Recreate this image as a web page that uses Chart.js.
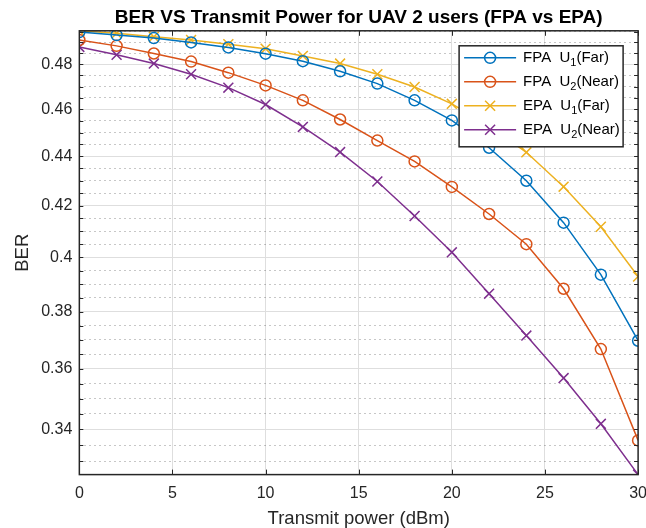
<!DOCTYPE html>
<html lang="en">
<head>
<meta charset="UTF-8">
<title>BER VS Transmit Power for UAV 2 users</title>
<script src="https://cdn.jsdelivr.net/npm/chart.js"></script>
<style>
  html, body { margin: 0; padding: 0; background: #fff; overflow: hidden; }
  /* a bit wider than the window so the last x label is cut like the original */
  #wrap { width: 656px; height: 528px; }
</style>
</head>
<body>
<div id="wrap"><canvas id="berChart"></canvas></div>
<script>
// transmit power (dBm)
const power = [0, 2, 4, 6, 8, 10, 12, 14, 16, 18, 20, 22, 24, 26, 28, 30];

// BER values
const fpaFar  = [0.4948, 0.4934, 0.4920, 0.4900, 0.4877, 0.4848, 0.4814, 0.4768, 0.4713, 0.4639, 0.4552, 0.4436, 0.4300, 0.4133, 0.3935, 0.3697];
const fpaNear = [0.4911, 0.4884, 0.4849, 0.4812, 0.4762, 0.4705, 0.4639, 0.4556, 0.4466, 0.4379, 0.4275, 0.4167, 0.4050, 0.3883, 0.3668, 0.3365];
const epaFar  = [0.4954, 0.4942, 0.4926, 0.4911, 0.4892, 0.4871, 0.4838, 0.4803, 0.4755, 0.4698, 0.4624, 0.4530, 0.4417, 0.4276, 0.4117, 0.3928];
const epaNear = [0.4879, 0.4843, 0.4803, 0.4755, 0.4695, 0.4621, 0.4524, 0.4418, 0.4297, 0.4159, 0.4019, 0.3865, 0.3715, 0.3569, 0.3418, 0.3258];

const seriesNames = ['FPA  U_1(Far)', 'FPA  U_2(Near)', 'EPA  U_1(Far)', 'EPA  U_2(Near)'];

// tick values
const xTicks = [0, 5, 10, 15, 20, 25, 30];
const yMajorTicks = [0.34, 0.36, 0.38, 0.40, 0.42, 0.44, 0.46, 0.48];
const yMinorTicks = [0.33, 0.335, 0.345, 0.35, 0.355, 0.365, 0.37, 0.375, 0.385, 0.39, 0.395,
                     0.405, 0.41, 0.415, 0.425, 0.43, 0.435, 0.445, 0.45, 0.455, 0.465, 0.47, 0.475,
                     0.485, 0.49, 0.495];

const allValues = fpaFar.concat(fpaNear, epaFar, epaNear);
const yMin = Math.min(...allValues);
const yMax = Math.max(...allValues);

const BLUE = '#0072BD', ORANGE = '#D95319', YELLOW = '#EDB120', PURPLE = '#7E2F8E';
const AXIS = '#262626';

Chart.defaults.font.family = "'Liberation Sans', Arial, Helvetica, sans-serif";

function makeSeries(label, values, color, marker) {
    return {
        label: label,
        data: power.map((p, i) => ({ x: p, y: values[i] })),
        borderColor: color,
        backgroundColor: 'transparent',
        borderWidth: 1.5,
        pointStyle: marker,
        pointRadius: marker === 'circle' ? 5.5 : 7,
        pointBorderWidth: 1.5,
        pointBorderColor: color,
        pointBackgroundColor: 'transparent',
        tension: 0,
        fill: false,
    };
}

// box round the plot area with inward ticks (MATLAB style)
const boxPlugin = {
    id: 'axesBox',
    afterDatasetsDraw(chart) {
        const ctx = chart.ctx;
        const { left, right, top, bottom } = chart.chartArea;
        const xs = chart.scales.x, ys = chart.scales.y;
        ctx.save();
        ctx.strokeStyle = AXIS;
        ctx.lineWidth = 1;
        ctx.beginPath();
        xTicks.forEach(v => {
            const px = Math.round(xs.getPixelForValue(v)) + 0.5;
            ctx.moveTo(px, bottom); ctx.lineTo(px, bottom - 5);
            ctx.moveTo(px, top); ctx.lineTo(px, top + 5);
        });
        yMajorTicks.concat(yMinorTicks).forEach(v => {
            if (v < yMin || v > yMax) return;
            const py = Math.round(ys.getPixelForValue(v)) + 0.5;
            ctx.moveTo(left, py); ctx.lineTo(left + 4, py);
            ctx.moveTo(right, py); ctx.lineTo(right - 4, py);
        });
        ctx.stroke();
        ctx.lineWidth = 1.5;
        ctx.strokeRect(left, top, right - left, bottom - top);
        ctx.restore();
    }
};

// legend drawn inside the axes, top-right, opaque
const legendPlugin = {
    id: 'insideLegend',
    afterDatasetsDraw(chart) {
        const ctx = chart.ctx;
        const { right, top } = chart.chartArea;
        const w = 164, h = 101;
        const bx = right - 15 - w, by = top + 15;
        ctx.save();
        ctx.fillStyle = '#fff';
        ctx.fillRect(bx, by, w, h);
        ctx.strokeStyle = AXIS;
        ctx.lineWidth = 1.5;
        ctx.strokeRect(bx, by, w, h);
        chart.data.datasets.forEach((ds, i) => {
            const cy = by + 12 + i * 24;
            ctx.strokeStyle = ds.borderColor;
            ctx.lineWidth = 1.5;
            ctx.beginPath();
            ctx.moveTo(bx + 5, cy); ctx.lineTo(bx + 57, cy);
            ctx.stroke();
            const mx = bx + 31;
            ctx.beginPath();
            if (ds.pointStyle === 'circle') {
                ctx.arc(mx, cy, 5.5, 0, Math.PI * 2);
            } else {
                ctx.moveTo(mx - 5, cy - 5); ctx.lineTo(mx + 5, cy + 5);
                ctx.moveTo(mx - 5, cy + 5); ctx.lineTo(mx + 5, cy - 5);
            }
            ctx.stroke();
            // text with subscript
            const parts = ds.label.split('_');
            let tx = bx + 64;
            ctx.fillStyle = '#000';
            ctx.textBaseline = 'middle';
            ctx.font = "15px 'Liberation Sans', Arial, sans-serif";
            ctx.fillText(parts[0], tx, cy);
            tx += ctx.measureText(parts[0]).width;
            ctx.font = "11px 'Liberation Sans', Arial, sans-serif";
            ctx.fillText(parts[1][0], tx, cy + 5);
            tx += ctx.measureText(parts[1][0]).width;
            ctx.font = "15px 'Liberation Sans', Arial, sans-serif";
            ctx.fillText(parts[1].slice(1), tx, cy);
        });
        ctx.restore();
    }
};

const ctx = document.getElementById('berChart').getContext('2d');
const chart = new Chart(ctx, {
    type: 'line',
    data: {
        datasets: [
            makeSeries(seriesNames[0], fpaFar, BLUE, 'circle'),
            makeSeries(seriesNames[1], fpaNear, ORANGE, 'circle'),
            makeSeries(seriesNames[2], epaFar, YELLOW, 'crossRot'),
            makeSeries(seriesNames[3], epaNear, PURPLE, 'crossRot'),
        ],
    },
    options: {
        responsive: true,
        maintainAspectRatio: false,
        devicePixelRatio: 1,
        animation: false,
        layout: { padding: { left: 3, right: 0, top: 0, bottom: 0 } },
        plugins: {
            legend: { display: false },
            tooltip: { enabled: false },
        },
        scales: {
            x: {
                type: 'linear',
                min: 0,
                max: 30,
                bounds: 'data',
                afterBuildTicks: scale => { scale.ticks = xTicks.map(v => ({ value: v })); },
                ticks: { color: AXIS, font: { size: 16 }, padding: 9, maxRotation: 0 },
                grid: {
                    color: c => (c.tick && (c.tick.value === 0 || c.tick.value === 30)) ? 'transparent' : '#dedede',
                    drawTicks: false,
                },
                border: { display: false },
                title: {
                    display: true,
                    text: 'Transmit power (dBm)',
                    color: AXIS,
                    font: { size: 18.5 },
                    padding: { top: -4, bottom: -2 },
                },
            },
            // top axis only carries the chart title, centred over the plot box
            xTop: {
                type: 'linear',
                position: 'top',
                min: 0,
                max: 30,
                ticks: { display: false },
                grid: { display: false, drawTicks: false },
                border: { display: false },
                title: {
                    display: true,
                    text: 'BER VS Transmit Power for UAV 2 users (FPA vs EPA)',
                    color: '#000',
                    font: { size: 19, weight: 'bold' },
                    padding: { top: 6, bottom: 2 },
                },
            },
            y: {
                type: 'logarithmic',
                min: yMin,
                max: yMax,
                bounds: 'data',
                afterBuildTicks: scale => { scale.ticks = yMajorTicks.map(v => ({ value: v })); },
                ticks: {
                    color: AXIS,
                    font: { size: 16 },
                    padding: 7,
                    autoSkip: false,
                    callback: v => String(+Number(v).toFixed(2)),
                },
                grid: { color: '#dedede', drawTicks: false },
                border: { display: false },
                title: {
                    display: true,
                    text: 'BER',
                    color: AXIS,
                    font: { size: 18.5 },
                    padding: { top: 9, bottom: 0 },
                },
            },
            yMinor: {
                type: 'logarithmic',
                position: 'left',
                min: yMin,
                max: yMax,
                bounds: 'data',
                afterBuildTicks: scale => { scale.ticks = yMinorTicks.map(v => ({ value: v })); },
                ticks: { display: false },
                grid: { color: 'rgba(38,38,38,0.26)', drawTicks: false, lineWidth: 1 },
                border: { display: false, dash: [2, 3] },
            },
        },
    },
    plugins: [boxPlugin, legendPlugin],
});
</script>
</body>
</html>
